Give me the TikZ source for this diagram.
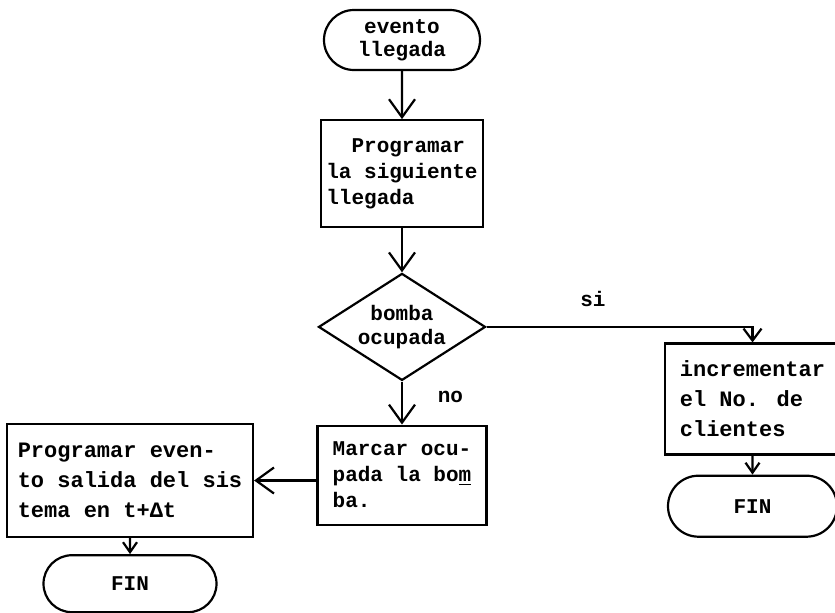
\documentclass[tikz,border=0pt]{standalone}
\usepackage{fontspec}
\newfontfamily\maquina{Liberation Mono}
\usetikzlibrary{shapes.geometric, shapes.misc, positioning, arrows.meta}

\begin{document}
\begin{tikzpicture}[
    x=0.5pt, y=-0.5pt,
    every node/.style={font=\maquina\bfseries\fontsize{10.5}{13}\selectfont},
    terminal/.style={draw, rounded rectangle, line width=1.1pt, align=center, inner sep=1pt},
    proceso/.style={draw, rectangle, line width=1.1pt, align=left, inner sep=1pt},
    decision/.style={draw, diamond, aspect=1.56, line width=1.1pt, align=center, inner sep=0pt,
        minimum width=83.5pt, minimum height=53.5pt},
    flecha/.style={draw, line width=1.1pt, -{Straight Barb[length=9pt,width=13pt,line width=1.1pt]}},
    flechita/.style={draw, line width=1.1pt, -{Straight Barb[length=5pt,width=7pt,line width=1.1pt]}}
]
    \useasboundingbox (0,0) rectangle (835,612);

    % columna principal
    \node[terminal, minimum width=80pt, minimum height=30pt,
        font=\maquina\bfseries\fontsize{10.5}{11.5}\selectfont] (llegada) at (402,40) {evento\\llegada};
    \node[proceso, below=24pt of llegada, minimum width=81pt, minimum height=53.5pt] (programa)
        {\ \ Programar\\la siguiente\\llegada};
    \node[decision, below=22pt of programa,
        font=\maquina\bfseries\fontsize{10.5}{12}\selectfont] (bomba) {bomba\\ocupada};
    \node[proceso, below=21.5pt of bomba, minimum width=84.5pt, minimum height=49.5pt] (marcar)
        {Marcar ocu-\\pada la bo\underline{m}\\ba.};

    % rama izquierda
    \node[proceso, minimum width=123pt, minimum height=56.5pt,
        font=\maquina\bfseries\fontsize{11}{15}\selectfont] (salida) at (130,480.5)
        {Programar even-\\to salida del sis\\tema en t+Δt};
    \node[terminal, below=8pt of salida, minimum width=88.5pt, minimum height=28.5pt] (finA) {FIN};

    % rama derecha
    \node[proceso, minimum width=87.5pt, minimum height=55.5pt,
        font=\maquina\bfseries\fontsize{11}{15}\selectfont] (incrementa) at (752.5,399)
        {incrementar\\el No. de\\clientes};
    \node[terminal, below=9.5pt of incrementa, minimum width=86.5pt, minimum height=30.5pt] (finB) {FIN};

    \draw[flecha] (llegada) -- (programa);
    \draw[flecha] (programa) -- (bomba);
    \draw[flecha] (bomba) -- node[pos=0.35, right=14pt] {no} (marcar);
    \draw[flechita, -{Straight Barb[length=6pt,width=9pt,line width=1.1pt]}]
        (bomba.east) -| node[pos=0.2, above=6pt] {si} (incrementa.north);
    \draw[flecha] (marcar.west |- salida.east) -- (salida.east);
    \draw[flechita] (salida) -- (finA);
    \draw[flechita] (incrementa) -- (finB);
\end{tikzpicture}
\end{document}
